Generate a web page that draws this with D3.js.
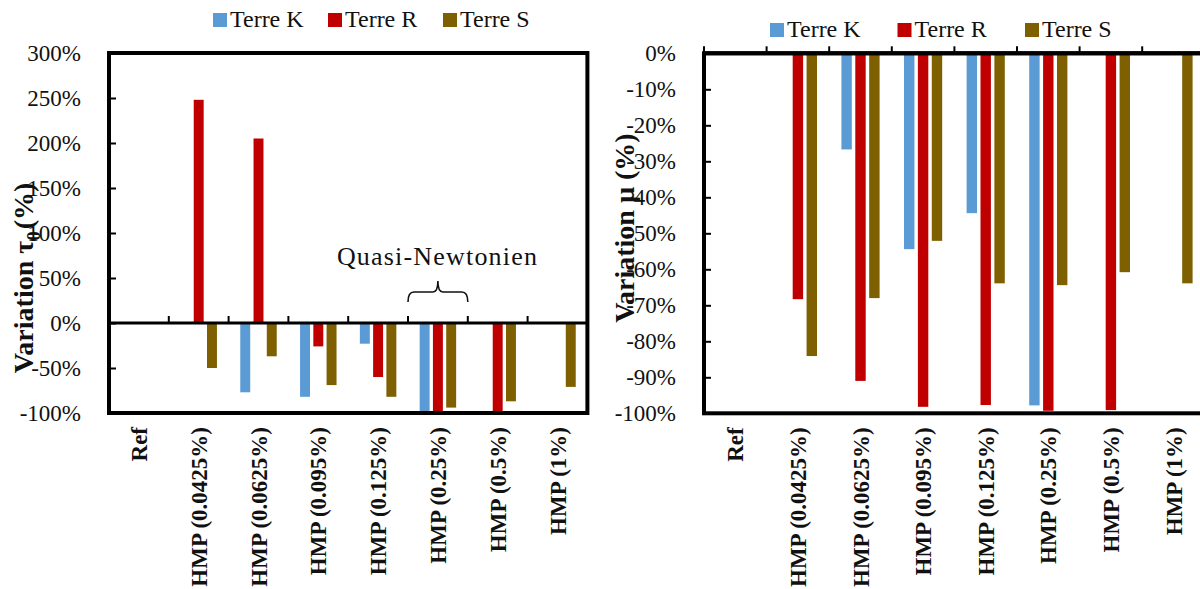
<!DOCTYPE html>
<html>
<head>
<meta charset="utf-8">
<script src="https://cdn.jsdelivr.net/npm/d3@7"></script>
<style>
  html, body { margin: 0; padding: 0; background: #fff; }
  svg { display: block; }
  text { font-family: "Liberation Serif", "Times New Roman", serif; fill: #111; }
</style>
</head>
<body>
<svg id="chart" width="1200" height="589"></svg>
<script>
// ---------- DATA ----------
const categories = ["Ref", "HMP (0.0425%)", "HMP (0.0625%)", "HMP (0.095%)", "HMP (0.125%)", "HMP (0.25%)", "HMP (0.5%)", "HMP (1%)"];
const seriesNames = ["Terre K", "Terre R", "Terre S"];
const seriesColors = ["#5B9BD5", "#C00000", "#7F6000"];

// Variation of tau0 (%)
const tauTerreK = [null, null, -77, -82, -23, -99, null, null];
const tauTerreR = [null, 248, 205, -26, -60, -100, -100, null];
const tauTerreS = [null, -50, -37, -69, -82, -94, -87, -71];

// Variation of mu (%)
const muTerreK = [null, null, -26.7, -54.4, -44.4, -97.8, null, null];
const muTerreR = [null, -68.3, -91, -98.2, -97.7, -99.3, -99.1, null];
const muTerreS = [null, -84.1, -68, -52.1, -63.9, -64.4, -60.8, -63.9];

const tauTicks = [300, 250, 200, 150, 100, 50, 0, -50, -100];
const muTicks = [0, -10, -20, -30, -40, -50, -60, -70, -80, -90, -100];

const annotationText = "Quasi-Newtonien";
const annotationCategory = "HMP (0.25%)";

// ---------- DRAW ----------
const FONT = '"Liberation Serif", "Times New Roman", serif';
const svg = d3.select("#chart");
svg.append("rect").attr("width", 1200).attr("height", 589).attr("fill", "#fff");

function drawChart(cfg) {
  const g = svg.append("g");
  const xCat = d3.scaleBand().domain(categories).range([cfg.left, cfg.right]).padding(0);
  const groupW = xCat.bandwidth() * 0.61;
  const x1 = d3.scaleBand().domain(seriesNames).range([0, groupW]).paddingInner(0.25);
  const y = d3.scaleLinear().domain(cfg.yDomain).range([cfg.bottom, cfg.top]);

  // bars
  cfg.values.forEach((vals, si) => {
    g.append("g").selectAll("rect")
      .data(categories.map((c, i) => ({ c, v: vals[i] })).filter(d => d.v !== null))
      .join("rect")
      .attr("x", d => xCat(d.c) + (xCat.bandwidth() - groupW) / 2 + x1(seriesNames[si]))
      .attr("width", x1.bandwidth())
      .attr("y", d => Math.min(y(0), y(d.v)))
      .attr("height", d => Math.abs(y(d.v) - y(0)))
      .attr("fill", seriesColors[si]);
  });

  // y axis (ticks inward)
  const yAxis = d3.axisLeft(y).tickValues(cfg.yTicks).tickFormat(d => d + "%")
    .tickSizeInner(-7).tickSizeOuter(0).tickPadding(28);
  const ya = g.append("g").attr("transform", `translate(${cfg.left},0)`).call(yAxis)
    .attr("font-family", FONT).attr("font-size", 23);
  ya.select(".domain").remove();
  ya.selectAll(".tick line").attr("stroke", "#000").attr("stroke-width", 2);
  ya.selectAll(".tick text").attr("font-size", 23).attr("fill", "#111")
    .attr("font-family", FONT);

  // category boundary ticks on the zero line (pointing up)
  const boundaries = categories.map(c => xCat(c));
  g.append("g").selectAll("line").data(boundaries.slice(cfg.firstTick)).join("line")
    .attr("x1", d => d).attr("x2", d => d)
    .attr("y1", y(0) - 7).attr("y2", y(0))
    .attr("stroke", "#000").attr("stroke-width", 2);

  // zero line
  g.append("line").attr("x1", cfg.left).attr("x2", cfg.right)
    .attr("y1", y(0)).attr("y2", y(0))
    .attr("stroke", "#000").attr("stroke-width", cfg.zeroWidth);

  // box
  g.append("rect").attr("x", cfg.left).attr("y", cfg.top)
    .attr("width", cfg.right - cfg.left).attr("height", cfg.bottom - cfg.top)
    .attr("fill", "none").attr("stroke", "#000").attr("stroke-width", 4);

  // x labels
  g.append("g").selectAll("text").data(categories).join("text")
    .attr("transform", c => `translate(${xCat(c) + xCat.bandwidth() / 2},${cfg.bottom + 14}) rotate(-90)`)
    .attr("text-anchor", "end")
    .attr("dy", "0.35em")
    .attr("font-size", 23)
    .attr("font-weight", "bold")
    .text(c => c);

  // legend
  const lg = g.append("g");
  seriesNames.forEach((s, i) => {
    const lx = cfg.legendX + i * cfg.legendStep;
    lg.append("rect").attr("x", lx).attr("y", cfg.legendY - 14).attr("width", 14).attr("height", 14)
      .attr("fill", seriesColors[i]);
    lg.append("text").attr("x", lx + 17).attr("y", cfg.legendY)
      .attr("font-size", 24).text(s);
  });

  // y title
  const t = g.append("text")
    .attr("transform", `translate(${cfg.titleX},${cfg.titleY}) rotate(-90)`)
    .attr("text-anchor", "middle")
    .attr("font-size", 28).attr("font-weight", "bold");
  cfg.title(t);

  return { xCat, y };
}

const left = drawChart({
  left: 109, right: 587.4, top: 53, bottom: 413,
  yDomain: [-100, 300], yTicks: tauTicks,
  values: [tauTerreK, tauTerreR, tauTerreS],
  firstTick: 1, zeroWidth: 3,
  legendX: 213, legendStep: 115, legendY: 27,
  titleX: 33, titleY: 278,
  title: t => {
    t.append("tspan").text("Variation τ");
    t.append("tspan").attr("dy", 7).attr("font-size", 19).text("0");
    t.append("tspan").attr("dy", -7).attr("dx", 2).text("(%)");
  }
});

const right = drawChart({
  left: 704, right: 704 + 8 * 62.6, top: 53.3, bottom: 413.3,
  yDomain: [-100, 0], yTicks: muTicks,
  values: [muTerreK, muTerreR, muTerreS],
  firstTick: 0, zeroWidth: 4,
  legendX: 770, legendStep: 127.5, legendY: 37,
  titleX: 634, titleY: 228,
  title: t => { t.text("Variation µ (%)"); }
});

// annotation (left chart)
const xc = left.xCat;
const bx1 = xc(annotationCategory), bx2 = xc(annotationCategory) + xc.bandwidth();
const bxm = (bx1 + bx2) / 2;
const yb = 292, yTop = 281, yEnd = 302;
svg.append("path")
  .attr("d", `M${bx1},${yEnd} Q${bx1},${yb} ${bx1 + 6},${yb} L${bxm - 5},${yb} Q${bxm},${yb} ${bxm},${yTop} Q${bxm},${yb} ${bxm + 5},${yb} L${bx2 - 6},${yb} Q${bx2},${yb} ${bx2},${yEnd}`)
  .attr("fill", "none").attr("stroke", "#111").attr("stroke-width", 1.6);
svg.append("text").attr("x", bxm - 1).attr("y", 265).attr("text-anchor", "middle")
  .attr("font-size", 26).attr("textLength", 200).attr("lengthAdjust", "spacing")
  .text(annotationText);
</script>
</body>
</html>
